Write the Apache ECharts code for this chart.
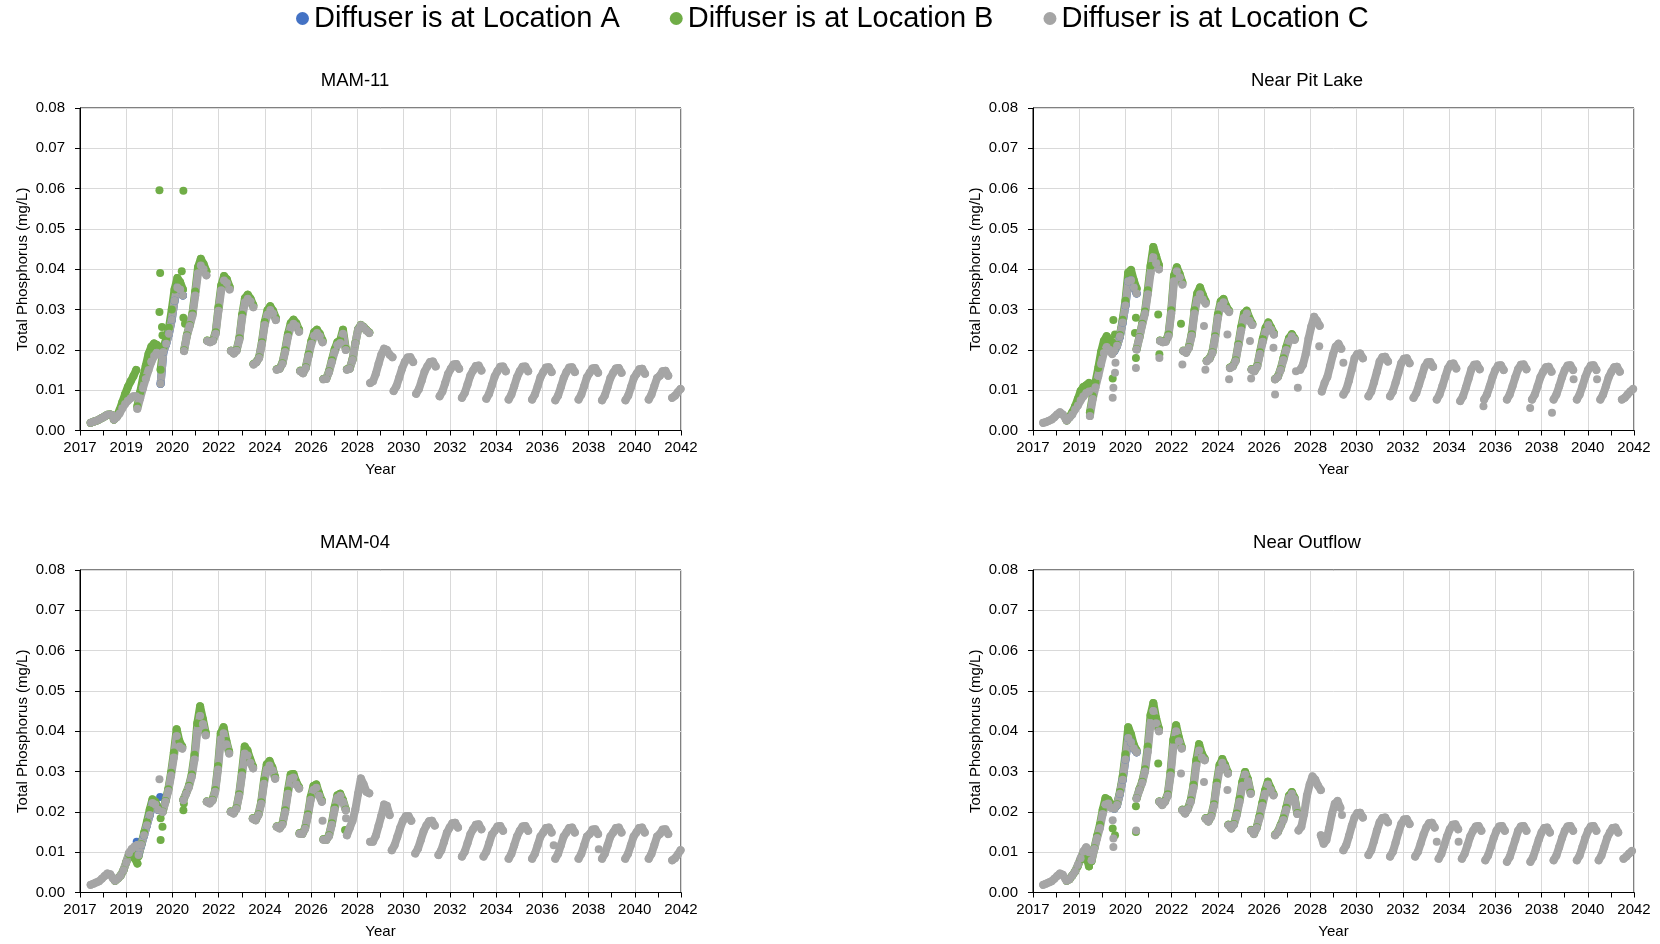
<!DOCTYPE html>
<html>
<head>
<meta charset="utf-8">
<script src="https://cdn.jsdelivr.net/npm/echarts@6/dist/echarts.min.js"></script>
<style>
html,body{margin:0;padding:0;background:#fff;}
#chart{width:1660px;height:944px;}
</style>
</head>
<body>
<div id="chart"></div>
<script>
// ---- axis definitions ----
const X_LABELS = ['2017','2019','2020','2022','2024','2026','2028','2030','2032','2034','2036','2038','2040','2042'];
const X0 = 2017.0;      // decimal year at left edge of plot
const XSTEP = 1.99;     // years between major x ticks
const Y_MIN = 0, Y_MAX = 0.08, Y_STEP = 0.01;
// sampling offsets (years after the start of each annual segment)
const PHASES = [0, 0.12, 0.24, 0.36, 0.48, 0.60, 0.72, 0.84, 0.96];
const NAMES = ['Diffuser is at Location A', 'Diffuser is at Location B', 'Diffuser is at Location C'];
const COLORS = ['#4472C4', '#70AD47', '#A5A5A5'];
const TITLES = ['MAM-11', 'Near Pit Lake', 'MAM-04', 'Near Outflow'];

// ---- MAM-11 ---- segments: [start year, values at PHASES...]
const MAM11_C = [
[2017.46,.0019,.0022,.0024,.0027,.0031,.0035,.0039,.0040,.0037],
[2018.46,.0027,.0033,.0042,.0055,.0066,.0074,.0080,.0085,.0085],
[2019.47,.0054,.0080,.0105,.0128,.0150,.0170,.0185,.0193,.0188],
[2020.47,.0116,.0195,.0215,.0240,.0275,.0322,.0355,.0350,.0335],
[2021.48,.0197,.0234,.0259,.0285,.0335,.0390,.0409,.0400,.0385],
[2022.48,.0222,.0219,.0222,.0240,.0297,.0348,.0372,.0366,.0350],
[2023.50,.0197,.0191,.0198,.0225,.0280,.0318,.0327,.0320,.0306],
[2024.47,.0164,.0169,.0180,.0215,.0262,.0288,.0299,.0290,.0274],
[2025.47,.0151,.0153,.0165,.0195,.0232,.0256,.0265,.0259,.0245],
[2026.48,.0147,.0142,.0155,.0185,.0215,.0235,.0242,.0234,.0219],
[2027.48,.0127,.0128,.0145,.0170,.0195,.0212,.0217,.0240,.0200],
[2028.49,.0151,.0153,.0175,.0215,.0250,.0261,.0256,.0248,.0242],
[2029.49,.0118,.0122,.0140,.0165,.0188,.0203,.0200,.0188,.0182],
[2030.50,.0098,.0110,.0131,.0153,.0170,.0181,.0182,.0170],
[2031.47,.0091,.0103,.0124,.0146,.0159,.0170,.0171,.0159],
[2032.48,.0085,.0097,.0118,.0140,.0153,.0164,.0165,.0153],
[2033.44,.0081,.0093,.0114,.0136,.0149,.0160,.0161,.0149],
[2034.49,.0079,.0091,.0112,.0134,.0147,.0158,.0159,.0147],
[2035.45,.0077,.0089,.0110,.0132,.0147,.0158,.0159,.0147],
[2036.46,.0077,.0089,.0110,.0132,.0145,.0156,.0157,.0145],
[2037.46,.0075,.0087,.0108,.0130,.0145,.0156,.0157,.0145],
[2038.46,.0077,.0089,.0110,.0132,.0143,.0154,.0155,.0143],
[2039.47,.0075,.0087,.0108,.0130,.0143,.0154,.0155,.0143],
[2040.48,.0075,.0087,.0108,.0130,.0141,.0152,.0153,.0141],
[2041.48,.0077,.0089,.0110,.0130,.0136,.0147,.0148,.0136],
[2042.49,.0081,.0086,.0095,.0103]
];
const MAM11_C_PTS = [[2020.52,.0151]];
const MAM11_B = [
[2017.46,.0019,.0022,.0024,.0027,.0031,.0035,.0039,.0040,.0037],
[2018.46,.0027,.0035,.0050,.0070,.0090,.0108,.0122,.0135,.0150],
[2019.47,.0060,.0095,.0130,.0160,.0190,.0208,.0216,.0212,.0205],
[2020.47,.0151,.0205,.0228,.0255,.0300,.0350,.0378,.0368,.0350],
[2021.48,.0199,.0236,.0262,.0290,.0345,.0405,.0426,.0413,.0395],
[2022.48,.0223,.0220,.0224,.0244,.0305,.0360,.0383,.0375,.0356],
[2023.50,.0198,.0192,.0200,.0229,.0287,.0328,.0337,.0327,.0311],
[2024.47,.0165,.0170,.0182,.0219,.0269,.0298,.0308,.0297,.0279],
[2025.47,.0152,.0154,.0167,.0199,.0239,.0266,.0275,.0266,.0250],
[2026.48,.0148,.0143,.0157,.0189,.0222,.0244,.0250,.0240,.0223],
[2027.48,.0128,.0129,.0147,.0174,.0201,.0219,.0224,.0250,.0203],
[2028.49,.0152,.0154,.0176,.0216,.0251,.0262,.0257,.0249,.0243]
];
const MAM11_B_PTS = [[2020.42,.0596],[2020.45,.0391],[2020.42,.0294],[2020.53,.0257],[2020.55,.0236],[2021.38,.0395],[2021.45,.0595],[2021.45,.0280],[2021.52,.0265]];
const MAM11_A = [[2020.47,.0116,.0195,.0215,.0240,.0275,.0322,.0355,.0350,.0335]];
const MAM11_A_PTS = [];

// ---- Near Pit Lake ----
const NPL_C = [
[2017.44,.0019,.0021,.0024,.0027,.0033,.0040,.0045,.0040,.0030],
[2018.45,.0025,.0032,.0040,.0052,.0062,.0075,.0085,.0093,.0097],
[2019.45,.0036,.0078,.0107,.0135,.0165,.0192,.0207,.0200,.0190],
[2020.50,.0197,.0210,.0233,.0268,.0310,.0370,.0373,.0355,.0340],
[2021.46,.0201,.0230,.0262,.0290,.0338,.0390,.0430,.0415,.0400],
[2022.47,.0222,.0219,.0220,.0234,.0290,.0370,.0395,.0380,.0362],
[2023.47,.0197,.0193,.0205,.0235,.0290,.0325,.0338,.0325,.0315],
[2024.48,.0172,.0178,.0192,.0230,.0280,.0310,.0318,.0302,.0294],
[2025.48,.0155,.0159,.0172,.0210,.0248,.0280,.0290,.0272,.0262],
[2026.41,.0151,.0147,.0158,.0190,.0220,.0245,.0262,.0250,.0238],
[2027.42,.0127,.0133,.0150,.0175,.0200,.0222,.0234,.0225],
[2028.50,.0151,.0163,.0190,.0228,.0258,.0282,.0272,.0260],
[2029.43,.0097,.0118,.0133,.0160,.0188,.0208,.0215,.0203],
[2030.36,.0089,.0101,.0124,.0151,.0179,.0190,.0191,.0179],
[2031.44,.0085,.0097,.0120,.0145,.0171,.0182,.0183,.0171],
[2032.37,.0085,.0097,.0119,.0143,.0167,.0178,.0179,.0167],
[2033.38,.0081,.0093,.0114,.0136,.0158,.0169,.0170,.0158],
[2034.38,.0077,.0089,.0110,.0132,.0154,.0165,.0166,.0154],
[2035.39,.0073,.0085,.0106,.0129,.0152,.0163,.0164,.0152],
[2036.42,.0077,.0089,.0110,.0132,.0150,.0161,.0162,.0150],
[2037.40,.0077,.0089,.0110,.0132,.0152,.0163,.0164,.0152],
[2038.48,.0077,.0089,.0110,.0132,.0146,.0157,.0158,.0146],
[2039.41,.0077,.0089,.0110,.0132,.0150,.0161,.0162,.0150],
[2040.41,.0077,.0089,.0110,.0132,.0150,.0161,.0162,.0150],
[2041.42,.0077,.0089,.0110,.0132,.0146,.0157,.0158,.0146],
[2042.35,.0077,.0081,.0089,.0097,.0103]
];
const NPL_C_PTS = [[2020.43,.0081],[2020.46,.0106],[2020.53,.0143],[2020.55,.0168],[2021.43,.0155],[2022.44,.0180],[2023.43,.0164],[2024.36,.0259],[2024.42,.0151],[2025.37,.0238],[2025.44,.0127],[2026.34,.0222],[2026.39,.0129],[2027.35,.0205],[2027.42,.0089],[2028.32,.0147],[2028.40,.0106],[2029.32,.0209],[2030.36,.0168],[2036.39,.0060],[2038.40,.0056],[2039.34,.0044],[2040.27,.0127],[2041.28,.0127]];
const NPL_B = [
[2018.45,.0025,.0034,.0045,.0060,.0078,.0098,.0108,.0112,.0118],
[2019.45,.0045,.0085,.0120,.0155,.0195,.0222,.0234,.0226,.0218],
[2020.50,.0199,.0213,.0237,.0275,.0322,.0392,.0398,.0372,.0352],
[2021.46,.0202,.0232,.0265,.0295,.0348,.0408,.0455,.0432,.0410],
[2022.47,.0223,.0220,.0222,.0238,.0298,.0384,.0405,.0388,.0367],
[2023.47,.0198,.0194,.0207,.0239,.0298,.0340,.0355,.0336,.0320],
[2024.48,.0173,.0179,.0194,.0234,.0288,.0320,.0326,.0308,.0297],
[2025.48,.0156,.0160,.0174,.0214,.0256,.0290,.0297,.0278,.0265],
[2026.41,.0152,.0148,.0160,.0194,.0227,.0254,.0268,.0255,.0241],
[2027.42,.0128,.0134,.0152,.0179,.0206,.0229,.0239,.0228]
];
const NPL_B_PTS = [[2020.46,.0274],[2020.53,.0238],[2020.43,.0129],[2021.43,.0280],[2021.39,.0242],[2021.43,.0180],[2022.39,.0288],[2022.44,.0189],[2023.37,.0265]];
const NPL_A = [[2020.50,.0197,.0210,.0233,.0268,.0310,.0370,.0373,.0355,.0340]];
const NPL_A_PTS = [];

// ---- MAM-04 ----
const MAM04_C = [
[2017.46,.0019,.0022,.0025,.0028,.0034,.0041,.0047,.0045,.0035],
[2018.51,.0029,.0035,.0042,.0055,.0075,.0098,.0108,.0114,.0118],
[2019.52,.0093,.0118,.0142,.0167,.0192,.0222,.0218,.0205],
[2020.56,.0200,.0225,.0252,.0290,.0335,.0388,.0362,.0357],
[2021.45,.0229,.0245,.0262,.0287,.0330,.0400,.0438,.0418,.0390],
[2022.46,.0225,.0221,.0228,.0250,.0305,.0380,.0395,.0368,.0345],
[2023.49,.0200,.0196,.0207,.0240,.0290,.0345,.0340,.0322,.0308],
[2024.44,.0183,.0179,.0192,.0220,.0270,.0305,.0315,.0303,.0282],
[2025.47,.0163,.0159,.0168,.0200,.0245,.0282,.0285,.0268,.0258],
[2026.45,.0146,.0145,.0158,.0190,.0230,.0255,.0260,.0240,.0225],
[2027.48,.0131,.0130,.0140,.0168,.0205,.0235,.0240,.0225,.0204],
[2028.49,.0142,.0160,.0178,.0205,.0245,.0283,.0268,.0250,.0246],
[2029.49,.0126,.0126,.0140,.0165,.0190,.0218,.0215,.0192],
[2030.42,.0105,.0117,.0138,.0160,.0178,.0189,.0190,.0178],
[2031.43,.0097,.0109,.0130,.0152,.0166,.0177,.0178,.0166],
[2032.43,.0093,.0105,.0126,.0148,.0161,.0172,.0173,.0161],
[2033.44,.0089,.0101,.0122,.0144,.0157,.0168,.0169,.0157],
[2034.37,.0089,.0101,.0122,.0144,.0153,.0164,.0165,.0153],
[2035.45,.0084,.0096,.0117,.0139,.0153,.0164,.0165,.0153],
[2036.46,.0084,.0096,.0117,.0139,.0149,.0160,.0161,.0149],
[2037.46,.0084,.0096,.0117,.0139,.0149,.0160,.0161,.0149],
[2038.46,.0084,.0096,.0117,.0139,.0145,.0156,.0157,.0145],
[2039.47,.0084,.0096,.0117,.0139,.0149,.0160,.0161,.0149],
[2040.47,.0084,.0096,.0117,.0139,.0149,.0160,.0161,.0149],
[2041.48,.0084,.0096,.0117,.0139,.0145,.0156,.0157,.0145],
[2042.49,.0080,.0085,.0094,.0105]
];
const MAM04_C_PTS = [[2020.42,.0281],[2027.44,.0178],[2028.45,.0184],[2037.39,.0117],[2039.33,.0107]];
const MAM04_B = [
[2018.51,.0029,.0035,.0042,.0055,.0075,.0095,.0100,.0085,.0072],
[2019.52,.0090,.0120,.0148,.0175,.0205,.0231,.0225,.0210],
[2020.56,.0201,.0227,.0256,.0297,.0347,.0405,.0375,.0362],
[2021.45,.0230,.0247,.0265,.0293,.0342,.0420,.0462,.0430,.0396],
[2022.46,.0226,.0222,.0230,.0254,.0314,.0395,.0410,.0376,.0349],
[2023.49,.0201,.0197,.0209,.0244,.0298,.0362,.0352,.0330,.0312],
[2024.44,.0184,.0180,.0194,.0224,.0278,.0318,.0326,.0310,.0286],
[2025.47,.0164,.0160,.0170,.0204,.0253,.0293,.0294,.0274,.0261],
[2026.45,.0147,.0146,.0160,.0194,.0237,.0264,.0268,.0246,.0228],
[2027.48,.0132,.0131,.0142,.0172,.0211,.0241,.0245,.0229,.0206]
];
const MAM04_B_PTS = [[2020.47,.0184],[2020.55,.0163],[2020.47,.0130],[2021.45,.0204],[2021.47,.0221],[2028.41,.0155]];
const MAM04_A = [[2019.52,.0093,.0118,.0142,.0167,.0192,.0222,.0218,.0205]];
const MAM04_A_PTS = [[2019.44,.0126],[2020.45,.0237]];

// ---- Near Outflow ----
const NO_C = [
[2017.44,.0019,.0022,.0025,.0028,.0034,.0041,.0047,.0044,.0033],
[2018.45,.0029,.0033,.0042,.0052,.0068,.0085,.0102,.0112,.0100],
[2019.52,.0080,.0108,.0135,.0160,.0195,.0218,.0221,.0210],
[2020.50,.0208,.0217,.0245,.0280,.0330,.0383,.0372,.0357,.0348],
[2021.46,.0233,.0254,.0272,.0300,.0350,.0420,.0450,.0420,.0400],
[2022.44,.0225,.0217,.0225,.0240,.0290,.0360,.0400,.0375,.0357],
[2023.43,.0204,.0196,.0207,.0225,.0260,.0315,.0352,.0335,.0328],
[2024.43,.0183,.0176,.0188,.0215,.0265,.0305,.0322,.0310,.0295],
[2025.41,.0167,.0159,.0168,.0192,.0225,.0265,.0293,.0276,.0245],
[2026.39,.0154,.0145,.0160,.0185,.0215,.0245,.0268,.0254,.0241],
[2027.42,.0142,.0150,.0165,.0180,.0205,.0235,.0245,.0232,.0195],
[2028.43,.0154,.0163,.0195,.0240,.0268,.0288,.0280,.0265,.0254],
[2029.39,.0142,.0121,.0130,.0160,.0195,.0220,.0227,.0210],
[2030.36,.0105,.0117,.0140,.0165,.0186,.0197,.0198,.0186],
[2031.44,.0093,.0105,.0128,.0153,.0174,.0185,.0186,.0174],
[2032.37,.0089,.0101,.0124,.0149,.0170,.0181,.0182,.0170],
[2033.45,.0089,.0101,.0122,.0144,.0161,.0172,.0173,.0161],
[2034.46,.0084,.0096,.0117,.0139,.0157,.0168,.0169,.0157],
[2035.46,.0084,.0096,.0117,.0139,.0153,.0164,.0165,.0153],
[2036.47,.0080,.0092,.0113,.0135,.0153,.0164,.0165,.0153],
[2037.40,.0076,.0088,.0109,.0131,.0153,.0164,.0165,.0153],
[2038.41,.0076,.0088,.0109,.0131,.0149,.0160,.0161,.0149],
[2039.41,.0080,.0092,.0113,.0135,.0153,.0164,.0165,.0153],
[2040.41,.0080,.0092,.0113,.0135,.0153,.0164,.0165,.0153],
[2041.35,.0080,.0092,.0113,.0135,.0149,.0160,.0161,.0149],
[2042.42,.0084,.0089,.0097,.0103]
];
const NO_C_PTS = [[2020.43,.0179],[2020.46,.0134],[2020.46,.0113],[2021.44,.0154],[2023.37,.0295],[2024.36,.0274],[2025.37,.0254],[2030.30,.0192],[2034.38,.0126],[2035.32,.0126]];
const NO_B = [
[2018.45,.0029,.0033,.0042,.0052,.0066,.0082,.0095,.0090,.0065],
[2019.52,.0078,.0110,.0140,.0168,.0205,.0234,.0230,.0218],
[2020.50,.0209,.0219,.0249,.0287,.0343,.0410,.0392,.0366,.0352],
[2021.46,.0234,.0256,.0275,.0306,.0362,.0440,.0470,.0432,.0406],
[2022.44,.0226,.0218,.0227,.0244,.0298,.0378,.0415,.0384,.0361],
[2023.43,.0205,.0197,.0209,.0229,.0267,.0328,.0368,.0344,.0332],
[2024.43,.0184,.0177,.0190,.0219,.0273,.0316,.0331,.0316,.0298],
[2025.41,.0168,.0160,.0170,.0196,.0232,.0274,.0299,.0281,.0248],
[2026.39,.0155,.0146,.0162,.0189,.0222,.0253,.0275,.0259,.0244],
[2027.42,.0143,.0151,.0167,.0184,.0210,.0240,.0249,.0235,.0197]
];
const NO_B_PTS = [[2020.43,.0159],[2020.53,.0142],[2021.43,.0214],[2021.43,.0150],[2022.39,.0320]];
const NO_A = [[2020.50,.0208,.0217,.0245,.0280,.0330,.0383,.0372,.0357,.0348]];
const NO_A_PTS = [];

// ---- helpers ----
const FONT = "'Liberation Sans', Arial, sans-serif";
const toU = y => (y - X0) / XSTEP;
function lineData(segs) {
  const out = [];
  for (const s of segs) {
    const start = s[0];
    let last = start;
    for (let i = 1; i < s.length; i++) {
      last = start + PHASES[i - 1];
      out.push([toU(last), s[i]]);
    }
    out.push([toU(last) + 0.001, '-']);
  }
  return out;
}
const ptData = pts => pts.map(p => [toU(p[0]), p[1]]);

const PANEL_DATA = [
  [[MAM11_A, MAM11_A_PTS], [MAM11_B, MAM11_B_PTS], [MAM11_C, MAM11_C_PTS]],
  [[NPL_A, NPL_A_PTS], [NPL_B, NPL_B_PTS], [NPL_C, NPL_C_PTS]],
  [[MAM04_A, MAM04_A_PTS], [MAM04_B, MAM04_B_PTS], [MAM04_C, MAM04_C_PTS]],
  [[NO_A, NO_A_PTS], [NO_B, NO_B_PTS], [NO_C, NO_C_PTS]]
];
const GRID_LEFT = [80, 1033, 80, 1033];
const GRID_TOP = [108, 108, 570, 570];
const TITLE_X = [355, 1307, 355, 1307];
const TITLE_Y = [71, 71, 533, 533];

const grids = [], xAxes = [], yAxes = [], titles = [], series = [];
for (let i = 0; i < 4; i++) {
  grids.push({left: GRID_LEFT[i], top: GRID_TOP[i], width: 601, height: 322.5,
    show: true, borderColor: '#000', borderWidth: 1, backgroundColor: 'transparent'});
  titles.push({text: TITLES[i], left: TITLE_X[i], top: TITLE_Y[i], textAlign: 'center', padding: 0,
    textStyle: {fontSize: 18.5, fontWeight: 'normal', color: '#000', fontFamily: FONT}});
  xAxes.push({type: 'value', gridIndex: i, min: 0, max: X_LABELS.length - 1, interval: 1,
    axisLine: {show: true, onZero: false, lineStyle: {color: '#000', width: 1}},
    axisTick: {show: true, length: 5, lineStyle: {color: '#000'}},
    minorTick: {show: true, splitNumber: 2, length: 5, lineStyle: {color: '#000'}},
    splitLine: {show: true, lineStyle: {color: '#D9D9D9', width: 1}},
    axisLabel: {formatter: v => X_LABELS[Math.round(v)], fontSize: 15, color: '#000', margin: 10, fontFamily: FONT},
    name: 'Year', nameLocation: 'middle', nameGap: 32,
    nameTextStyle: {fontSize: 15, color: '#000', fontFamily: FONT}});
  yAxes.push({type: 'value', gridIndex: i, min: Y_MIN, max: Y_MAX, interval: Y_STEP,
    axisLine: {show: true, onZero: false, lineStyle: {color: '#000', width: 1}},
    axisTick: {show: true, length: 5, lineStyle: {color: '#000'}},
    splitLine: {show: true, lineStyle: {color: '#D9D9D9', width: 1}},
    axisLabel: {formatter: v => v.toFixed(2), fontSize: 15, color: '#000', margin: 15, fontFamily: FONT},
    name: 'Total Phosphorus (mg/L)', nameLocation: 'middle', nameGap: 50, nameRotate: 90,
    nameTextStyle: {fontSize: 15, color: '#000', fontFamily: FONT}});
  PANEL_DATA[i].forEach((pair, k) => {
    series.push({type: 'line', name: NAMES[k], xAxisIndex: i, yAxisIndex: i,
      data: lineData(pair[0]), connectNulls: false,
      symbol: 'circle', symbolSize: 8, showSymbol: true,
      lineStyle: {width: 8, color: COLORS[k], cap: 'round', join: 'round', opacity: 1},
      itemStyle: {color: COLORS[k], opacity: 1}, silent: true, animation: false});
    series.push({type: 'scatter', name: NAMES[k], xAxisIndex: i, yAxisIndex: i,
      data: ptData(pair[1]), symbol: 'circle', symbolSize: 8,
      itemStyle: {color: COLORS[k], opacity: 1}, silent: true, animation: false});
  });
}

const chart = echarts.init(document.getElementById('chart'), null, {renderer: 'canvas'});
chart.setOption({
  animation: false,
  backgroundColor: '#fff',
  textStyle: {fontFamily: FONT},
  title: titles,
  legend: {data: NAMES, top: 4, left: 296, padding: 0, itemGap: 50, itemWidth: 13, itemHeight: 13,
    icon: 'circle', selectedMode: false,
    textStyle: {fontSize: 29, color: '#000', fontFamily: FONT}},
  grid: grids, xAxis: xAxes, yAxis: yAxes, series: series
});
</script>
</body>
</html>
